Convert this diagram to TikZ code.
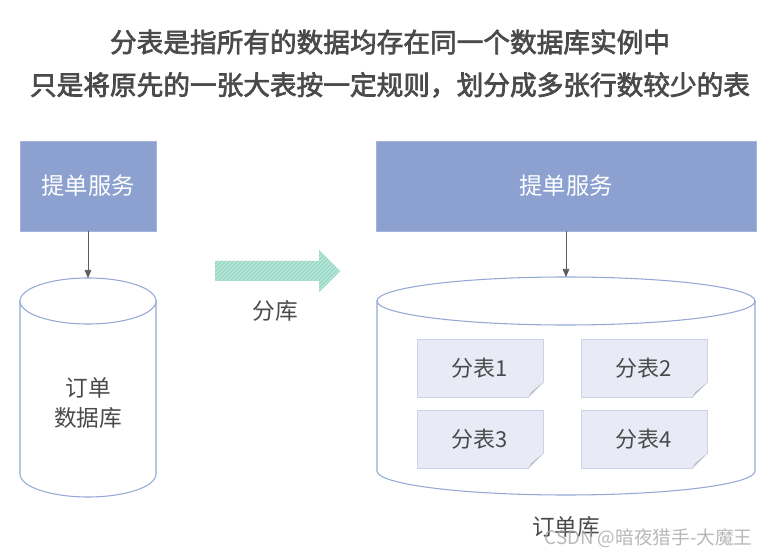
\documentclass[tikz,border=0pt]{standalone}
\usepackage{fontspec}
\setmainfont{Noto Sans CJK SC}
\newfontfamily\titlefont[FakeBold=2.5]{Noto Sans CJK SC}
\usepackage{xcolor}
\usepackage{tikz}
\usetikzlibrary{
  arrows.meta,
  positioning,
  calc,
  patterns,
}
\definecolor{textgrey}{HTML}{4A4A4A}
\definecolor{svcblue}{HTML}{8CA1CF}
\definecolor{svcedge}{HTML}{A3B3DB}
\definecolor{dbedge}{HTML}{95A8D6}
\definecolor{tabbg}{HTML}{E8EBF6}
\definecolor{tabedge}{HTML}{CBD3EB}
\definecolor{foldgrey}{HTML}{B9BCC6}
\definecolor{movegreen}{HTML}{B4E4D6}
\definecolor{hatchgreen}{HTML}{86D1BC}

\begin{document}
\begin{tikzpicture}[
    x=0.75pt, y=-0.75pt,
    title/.style={text=textgrey, font=\fontsize{20}{24}\selectfont\titlefont},
    service/.style={rectangle, draw=svcedge, fill=svcblue, text=white,
                    minimum height=67.5pt, font=\fontsize{17.5}{21}\selectfont},
    tablebox/.style={rectangle, draw=tabedge, fill=tabbg, text=textgrey,
                     minimum width=94.5pt, minimum height=43.5pt,
                     font=\fontsize{16.5}{20}\selectfont},
    label/.style={text=textgrey, font=\fontsize{17}{21}\selectfont, align=center},
    db/.style={draw=dbedge, fill=white, line width=0.8pt},
    flow/.style={draw=textgrey!90, -{Triangle[length=6pt, width=5pt]}},
  ]
  \useasboundingbox (0,0) rectangle (781,555);

  % titles
  \node[title] (title1) at (390,42) {分表是指所有的数据均存在同一个数据库实例中};
  \node[title] (title2) at (390,85) {只是将原先的一张大表按一定规则，划分成多张行数较少的表};

  % before: one service, one database
  \node[service, minimum width=102pt] (svcL) at (88,186) {提单服务};
  \path[db] (20,301) -- (20,474) arc[start angle=180, end angle=0,
        x radius=68, y radius=23] -- (156,301) -- cycle;
  \path[db] (88,301) ellipse [x radius=68, y radius=23];
  \coordinate (dbLtop) at (88,278);
  \node[label, font=\fontsize{17}{22}\selectfont] (dbL) at (88,403) {订单\\数据库};
  \draw[flow] (svcL) -- (dbLtop);

  % split arrow
  \fill[movegreen] (215,261) -- (319,261) -- (319,250) -- (340,271)
        -- (319,292) -- (319,281) -- (215,281) -- cycle;
  \path[pattern=north east lines, pattern color=hatchgreen]
        (215,261) -- (319,261) -- (319,250) -- (340,271)
        -- (319,292) -- (319,281) -- (215,281) -- cycle;
  \node[label] (split) at (275,311) {分库};

  % after: one service, one database with four tables
  \node[service, minimum width=285pt] (svcR) at (566,186) {提单服务};
  \path[db] (377,301) -- (377,471) arc[start angle=180, end angle=0,
        x radius=189, y radius=24] -- (755,301) -- cycle;
  \path[db] (566,301) ellipse [x radius=189, y radius=24];
  \coordinate (dbRtop) at (566,277);
  \draw[flow] (svcR) -- (dbRtop);

  \node[tablebox] (t1) at (480,368) {分表1};
  \node[tablebox] (t2) at (644,368) {分表2};
  \node[tablebox] (t3) at (480,439) {分表3};
  \node[tablebox] (t4) at (644,439) {分表4};
  \foreach \t in {t1,t2,t3,t4} {
    \fill[white] ($(\t.south east)+(-15,1)$) -- ($(\t.south east)+(1,1)$)
          -- ($(\t.south east)+(1,-15)$) -- cycle;
    \fill[foldgrey] ($(\t.south east)+(-15,0)$) -- ($(\t.south east)+(0,-15)$)
          -- ($(\t.south east)+(-12,-5)$) -- cycle;
  }

  \node[label] (dbR) at (566,527) {订单库};

  % watermark
  \node[text=gray!70, opacity=0.8, font=\fontsize{14}{17}\selectfont, anchor=west]
        (mark) at (540,538) {CSDN @暗夜猎手-大魔王};
\end{tikzpicture}
\end{document}
